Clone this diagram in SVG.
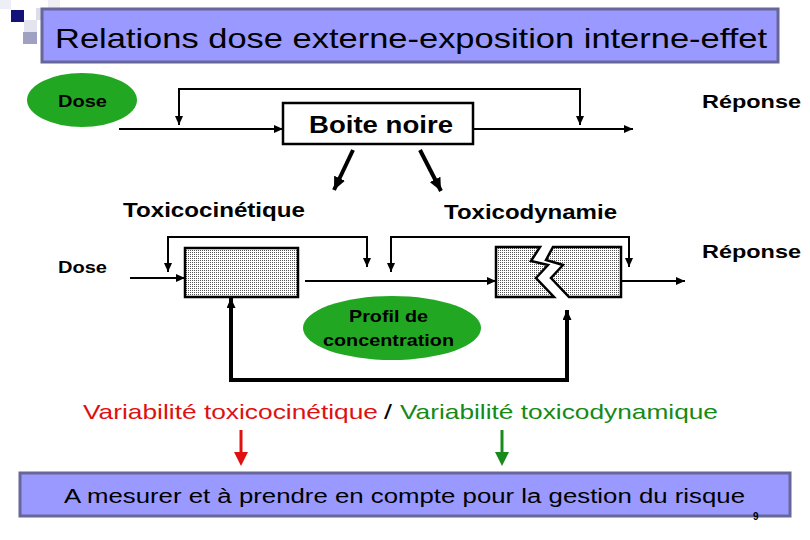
<svg xmlns="http://www.w3.org/2000/svg" width="810" height="540" viewBox="0 0 810 540">
<style>
text{font-family:"Liberation Sans",Arial,sans-serif;fill:#000}
.b{font-weight:bold}
.ln{fill:none;stroke:#000;stroke-width:2}
.tk{fill:none;stroke:#000;stroke-width:4}
.box{stroke:#000;stroke-width:2.5}
.band{fill:#9999ff;stroke:#666699;stroke-width:3}
.ell{fill:#22a722}
</style>
<defs>
<pattern id="dots" width="2" height="2" patternUnits="userSpaceOnUse">
<rect width="2" height="2" fill="#ffffff"/>
<rect width="1" height="1" fill="#555555"/>
</pattern>
<marker id="ah" markerWidth="9" markerHeight="8" refX="9" refY="4" orient="auto" markerUnits="userSpaceOnUse"><path d="M0,0 L9,4 L0,8 z" fill="#000"/></marker>
<marker id="ahb" markerWidth="13" markerHeight="12" refX="13" refY="6" orient="auto" markerUnits="userSpaceOnUse"><path d="M0,0 L13,6 L0,12 z" fill="#000"/></marker>
<marker id="ahm" markerWidth="10" markerHeight="9" refX="10" refY="4.5" orient="auto" markerUnits="userSpaceOnUse"><path d="M0,0 L10,4.5 L0,9 z" fill="#000"/></marker>
</defs>
<rect width="810" height="540" fill="#ffffff"/>
<g id="decor">
<rect x="0" y="0" width="11" height="9" fill="#eeeef6"/>
<rect x="11" y="10" width="13" height="12" fill="#12127a"/>
<rect x="24" y="20" width="13" height="12" fill="#e4e4ef"/>
<rect x="23" y="32" width="14" height="12" fill="#a0a0c2"/>
<rect x="36" y="8" width="12" height="12" fill="#dcdcea"/>
<rect x="48" y="0" width="12" height="8" fill="#eeeef4"/>
</g>
<g id="title">
<rect class="band" x="42" y="9" width="736" height="53"/>
<text x="55" y="48" font-size="28" textLength="712" lengthAdjust="spacingAndGlyphs">Relations dose externe-exposition interne-effet</text>
</g>
<g id="connectors">
<line class="ln" x1="119" y1="129" x2="283" y2="129" marker-end="url(#ah)"/>
<path class="ln" d="M380,89 H179 V125" marker-end="url(#ah)"/>
<path class="ln" d="M380,89 H580 V125" marker-end="url(#ah)"/>
<line class="ln" x1="473" y1="129" x2="633" y2="129" marker-end="url(#ah)"/>
<line class="tk" x1="353" y1="150" x2="334" y2="190" marker-end="url(#ahb)"/>
<line class="tk" x1="420" y1="150" x2="441" y2="191" marker-end="url(#ahb)"/>
<line class="ln" x1="130" y1="278" x2="185" y2="278" marker-end="url(#ah)"/>
<path class="ln" d="M268,237 H168 V272" marker-end="url(#ah)"/>
<path class="ln" d="M268,237 H367 V267" marker-end="url(#ah)"/>
<path class="ln" d="M500,237 H391 V272" marker-end="url(#ah)"/>
<path class="ln" d="M500,237 H629 V267" marker-end="url(#ah)"/>
<line class="ln" x1="305" y1="281" x2="496" y2="281" marker-end="url(#ah)"/>
<line class="ln" x1="621" y1="281" x2="685" y2="281" marker-end="url(#ah)"/>
<path class="tk" d="M400,380 H231 V298" marker-end="url(#ahm)"/>
<path class="tk" d="M400,380 H567 V310" marker-end="url(#ahm)"/>
</g>
<g id="dose1">
<ellipse class="ell" cx="82" cy="100" rx="55" ry="27"/>
<text class="b" x="58" y="107" font-size="16" textLength="49" lengthAdjust="spacingAndGlyphs">Dose</text>
</g>
<g id="boite">
<rect class="box" x="283" y="103" width="190" height="41" fill="#fff"/>
<text class="b" x="309" y="133" font-size="24" textLength="144" lengthAdjust="spacingAndGlyphs">Boite noire</text>
</g>
<g id="reponse1">
<text class="b" x="702" y="108" font-size="19" textLength="99" lengthAdjust="spacingAndGlyphs">Réponse</text>
</g>
<g id="toxicocinetique">
<text class="b" x="123" y="217" font-size="21" textLength="182" lengthAdjust="spacingAndGlyphs">Toxicocinétique</text>
</g>
<g id="toxicodynamie">
<text class="b" x="444" y="219" font-size="21" textLength="173" lengthAdjust="spacingAndGlyphs">Toxicodynamie</text>
</g>
<g id="dose2">
<text class="b" x="58" y="273" font-size="16" textLength="49" lengthAdjust="spacingAndGlyphs">Dose</text>
</g>
<g id="box1">
<rect class="box" x="185" y="248" width="113" height="49" fill="url(#dots)"/>
</g>
<g id="box2">
<path class="box" fill="url(#dots)" d="M496,247 H540 L531,261 L548,265 L536,278 L554,297 H496 Z"/>
<path class="box" fill="url(#dots)" d="M553,247 H621 V297 H569 L551,278 L563,265 L546,260 Z"/>
</g>
<g id="reponse2">
<text class="b" x="702" y="258" font-size="19" textLength="99" lengthAdjust="spacingAndGlyphs">Réponse</text>
</g>
<g id="profil">
<ellipse class="ell" cx="392" cy="328" rx="89" ry="32"/>
<text class="b" x="349" y="322" font-size="17" textLength="79" lengthAdjust="spacingAndGlyphs">Profil de</text>
<text class="b" x="323" y="346" font-size="17" textLength="131" lengthAdjust="spacingAndGlyphs">concentration</text>
</g>
<g id="variabilite">
<text x="83" y="419" font-size="21" style="fill:#dd1111" textLength="295" lengthAdjust="spacingAndGlyphs">Variabilité toxicocinétique</text>
<text x="384" y="419" font-size="21" textLength="8" lengthAdjust="spacingAndGlyphs">/</text>
<text x="400" y="419" font-size="21" style="fill:#168a16" textLength="318" lengthAdjust="spacingAndGlyphs">Variabilité toxicodynamique</text>
</g>
<g id="arrows-colour">
<line x1="241" y1="430" x2="241" y2="453" stroke="#e01010" stroke-width="3"/>
<polygon points="234,452 248,452 241,466" fill="#e01010"/>
<line x1="502" y1="430" x2="502" y2="453" stroke="#1a8a1a" stroke-width="3"/>
<polygon points="495,452 509,452 502,466" fill="#1a8a1a"/>
</g>
<g id="mesurer">
<rect class="band" x="20" y="473" width="770" height="43"/>
<text x="64" y="503" font-size="20" textLength="681" lengthAdjust="spacingAndGlyphs">A mesurer et à prendre en compte pour la gestion du risque</text>
</g>
<g id="page">
<text class="b" x="753" y="520" font-size="10">9</text>
</g>
</svg>
